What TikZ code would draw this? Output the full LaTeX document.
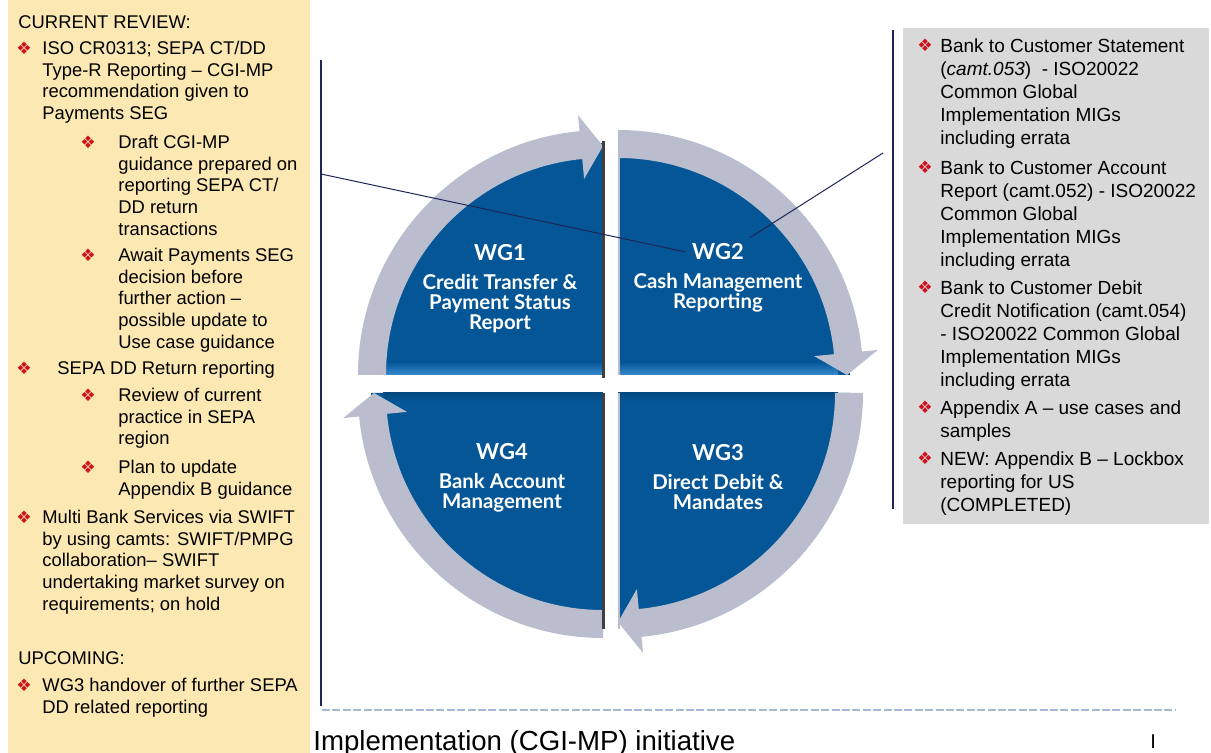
\documentclass[tikz,border=0pt]{standalone}
\usepackage{fontspec}
\setmainfont{Liberation Sans}
\newfontfamily\wgfont{Lato}
\newfontfamily\bulletfont{DejaVu Sans}
\usetikzlibrary{calc,positioning}

\definecolor{panelyellow}{RGB}{252,232,178}
\definecolor{panelgray}{RGB}{217,217,217}
\definecolor{wgblue}{RGB}{5,86,150}
\definecolor{bevelblue}{RGB}{58,138,208}
\definecolor{bandgray}{RGB}{185,189,205}
\definecolor{rulenavy}{RGB}{30,38,88}
\definecolor{bulletred}{RGB}{205,20,30}
\definecolor{dashblue}{RGB}{165,185,210}

\tikzset{
  ltxt/.style={anchor=north west, inner sep=0pt, align=left, font=\fontsize{9.2}{10.8}\selectfont},
  rtxt/.style={anchor=north west, inner sep=0pt, align=left, font=\fontsize{9.5}{11.5}\selectfont},
  bul/.style={inner sep=0pt, text=bulletred, font=\bulletfont\fontsize{8.6}{9}\selectfont},
  wgtitle/.style={inner sep=3pt, text=white, font=\wgfont\bfseries\fontsize{11}{12}\selectfont},
  wgbody/.style={inner sep=0pt, align=center, text=white, font=\wgfont\bfseries\fontsize{10.2}{10}\selectfont},
  quad/.style={fill=wgblue},
  band/.style={fill=bandgray},
  rule/.style={draw=rulenavy, line width=0.6pt},
  conn/.style={draw=rulenavy, line width=0.5pt},
}

% grey arrow round one quadrant: corner, start angle, head base angle, tip angle
\newcommand{\bandarrow}[4]{%
  \fill[band] ($(#1)+(#2:245)$) arc[start angle=#2, end angle=#3, radius=245]
    -- ($(#1)+(#3:261)$) -- ($(#1)+(#4:229)$) -- ($(#1)+(#3:197)$)
    -- ($(#1)+(#3:217)$) arc[start angle=#3, end angle=#2, radius=217] -- cycle;
}

\begin{document}
\begin{tikzpicture}[x=0.5pt,y=0.5pt]
\useasboundingbox (0,0) rectangle (1211,-753);

% panels and rules
\fill[panelyellow] (8,0) rectangle (310,-753);
\fill[panelgray] (903,-28) rectangle (1209,-524);
\draw[rule] (321,-60) -- (321,-706);
\draw[rule] (893,-30) -- (893,-509);
\draw[dashblue, line width=0.6pt, dash pattern=on 4pt off 1.2pt] (322,-710) -- (1176,-710);

% the four quadrants
\coordinate (c1) at (603,-375);
\coordinate (c2) at (618,-375);
\coordinate (c3) at (618,-393);
\coordinate (c4) at (603,-393);
\fill[quad] (c1) -- ++(180:232) arc[start angle=180, end angle=90, radius=232] -- cycle;
\fill[quad] (c2) -- ++(90:232) arc[start angle=90, end angle=0, radius=232] -- cycle;
\fill[quad] (c3) -- ++(0:232) arc[start angle=0, end angle=-90, radius=232] -- cycle;
\fill[quad] (c4) -- ++(270:232) arc[start angle=270, end angle=180, radius=232] -- cycle;
\shade[top color=wgblue, bottom color=bevelblue] ($(c1)+(-220,13)$) rectangle (c1);
\shade[top color=wgblue, bottom color=bevelblue] (c2) rectangle ($(c2)+(220,13)$);
\shade[top color=wgblue!85!black, bottom color=wgblue] ($(c4)+(-220,-9)$) rectangle (c4);
\shade[top color=wgblue!85!black, bottom color=wgblue] (c3) rectangle ($(c3)+(220,-9)$);
\bandarrow{c1}{180}{95.5}{90}
\bandarrow{c2}{90}{5.5}{0}
\bandarrow{c3}{0}{-84.5}{-90}
\bandarrow{c4}{270}{185.5}{180}
\draw[black!75, line width=1.5pt] ($(c1)+(0,234)$) -- ($(c1)+(0,-3)$);
\draw[black!75, line width=1.5pt] (c4) -- ($(c4)+(0,-236)$);
\draw[bandgray, line width=0.6pt] ($(c2)+(1,0)$) -- ($(c2)+(1,243)$);
\draw[bandgray, line width=0.6pt] ($(c3)+(1,0)$) -- ($(c3)+(1,-236)$);

\node[wgtitle] (wg1t) at (500,-253) {WG1};
\node[wgbody, below=3pt of wg1t] (wg1) {Credit Transfer \&\\Payment Status\\Report};
\node[wgtitle] (wg2t) at (718,-252) {WG2};
\node[wgbody, below=3pt of wg2t] (wg2) {Cash Management\\Reporting};
\node[wgtitle] (wg4t) at (502,-452) {WG4};
\node[wgbody, below=3pt of wg4t] (wg4) {Bank Account\\Management};
\node[wgtitle] (wg3t) at (718,-453) {WG3};
\node[wgbody, below=3pt of wg3t] (wg3) {Direct Debit \&\\Mandates};

% left panel
\node[ltxt] (cur) at (18,-15) {CURRENT REVIEW:};
\node[bul] (b1) at (24,-48) {❖};
\node[ltxt] (t1) at (42,-41) {ISO CR0313; SEPA CT/DD\\Type-R Reporting – CGI-MP\\recommendation given to\\Payments SEG};
\node[bul] (b1a) at (88,-142) {❖};
\node[ltxt] (t1a) at (118,-135) {Draft CGI-MP\\guidance prepared on\\reporting SEPA CT/\\DD return\\transactions};
\node[bul] (b1b) at (88,-255) {❖};
\node[ltxt] (t1b) at (118,-248) {Await Payments SEG\\decision before\\further action –\\possible update to\\Use case guidance};
\node[bul] (b2) at (24,-368) {❖};
\node[ltxt] (t2) at (57,-361) {SEPA DD Return reporting};
\node[bul] (b2a) at (88,-395) {❖};
\node[ltxt] (t2a) at (118,-388) {Review of current\\practice in SEPA\\region};
\node[bul] (b2b) at (88,-467) {❖};
\node[ltxt] (t2b) at (118,-460) {Plan to update\\Appendix B guidance};
\node[bul] (b3) at (24,-517) {❖};
\node[ltxt] (t3) at (42,-510) {Multi Bank Services via SWIFT\\by using camts: SWIFT/PMPG\\collaboration– SWIFT\\undertaking market survey on\\requirements; on hold};
\node[ltxt] (upc) at (18,-651) {UPCOMING:};
\node[bul] (b4) at (24,-685) {❖};
\node[ltxt] (t4) at (42,-678) {WG3 handover of further SEPA\\DD related reporting};

% right panel
\node[bul] (b5) at (925,-45) {❖};
\node[rtxt] (t5) at (940,-38) {Bank to Customer Statement\\(\textit{camt.053})\ \ - ISO20022\\Common Global\\Implementation MIGs\\including errata};
\node[bul] (b6) at (925,-167) {❖};
\node[rtxt] (t6) at (940,-160) {Bank to Customer Account\\Report (camt.052) - ISO20022\\Common Global\\Implementation MIGs\\including errata};
\node[bul] (b7) at (925,-287) {❖};
\node[rtxt] (t7) at (940,-280) {Bank to Customer Debit\\Credit Notification (camt.054)\\- ISO20022 Common Global\\Implementation MIGs\\including errata};
\node[bul] (b8) at (925,-407) {❖};
\node[rtxt] (t8) at (940,-400) {Appendix A – use cases and\\samples};
\node[bul] (b9) at (925,-458) {❖};
\node[rtxt] (t9) at (940,-451) {NEW: Appendix B – Lockbox\\reporting for US\\(COMPLETED)};

% connectors
\coordinate (lr) at (321,-174);
\coordinate (rr) at (883,-153);
\draw[conn] (lr) -- (wg2t.west);
\draw[conn] (rr) -- (wg2t.north east);

% footer
\node[anchor=base west, inner sep=0pt, font=\fontsize{13.8}{15}\selectfont] (foot) at (313,-750) {Implementation (CGI-MP) initiative};
\node[anchor=base west, inner sep=0pt, font=\fontsize{10}{12}\selectfont] (pg) at (1150,-748) {I};
\end{tikzpicture}
\end{document}
